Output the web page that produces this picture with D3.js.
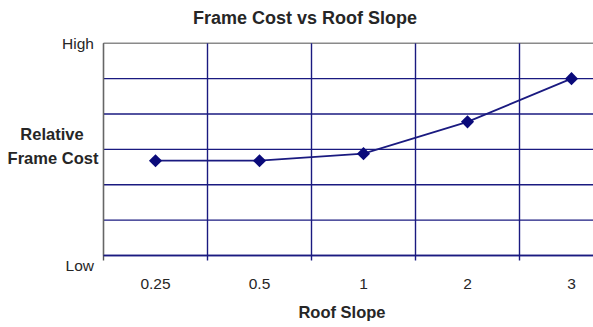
<!DOCTYPE html>
<html>
<head>
<meta charset="utf-8">
<script src="https://cdn.jsdelivr.net/npm/d3@7"></script>
<style>
  html, body { margin: 0; padding: 0; background: #fff; }
  svg { display: block; font-family: "Liberation Sans", Arial, sans-serif; }
</style>
</head>
<body>
<div id="chart"></div>
<script>
// Roof slope categories and relative frame cost (0 = Low, 6 = High)
const slopes = ["0.25", "0.5", "1", "2", "3"];
const frameCost = [2.68, 2.68, 2.88, 3.78, 5.0];
const gridValues = [0, 1, 2, 3, 4, 5, 6];
const extremeLabels = [{ v: 0, text: "Low" }, { v: 6, text: "High" }];

const W = 593, H = 327;
const plotLeft = 103.5, plotTop = 43.3, plotBottom = 255.5;
const band = 104;
const plotRight = plotLeft + band * slopes.length;

const svg = d3.select("#chart").append("svg")
  .attr("width", W).attr("height", H);

const x = d3.scaleBand().domain(slopes)
  .range([plotLeft, plotRight]).padding(0);
const y = d3.scaleLinear().domain([0, 6]).range([plotBottom, plotTop]);

const navy = "#1a1a80";
const ink = "#262626";

// horizontal gridlines
svg.append("g").selectAll("line").data(gridValues).join("line")
  .attr("x1", plotLeft).attr("x2", plotRight)
  .attr("y1", d => y(d)).attr("y2", d => y(d))
  .attr("stroke", d => d === 6 ? "#8a8a8a" : navy)
  .attr("stroke-width", 1.4);

// vertical gridlines at category boundaries, with tick marks below the axis
const bounds = slopes.map(s => x(s)).concat([plotRight]);
svg.append("g").selectAll("line").data(bounds).join("line")
  .attr("x1", d => d).attr("x2", d => d)
  .attr("y1", plotTop)
  .attr("y2", plotBottom + 5)
  .attr("stroke", (d, i) => i === 0 ? "#555" : navy)
  .attr("stroke-width", 1.4);

// left axis in grey, bottom axis in navy
svg.append("line")
  .attr("x1", plotLeft).attr("x2", plotLeft)
  .attr("y1", plotTop).attr("y2", plotBottom)
  .attr("stroke", "#666").attr("stroke-width", 1.2);
svg.append("line")
  .attr("x1", plotLeft).attr("x2", plotRight)
  .attr("y1", plotBottom).attr("y2", plotBottom)
  .attr("stroke", navy).attr("stroke-width", 1.6);

// data line
const pts = slopes.map((s, i) => [x(s) + x.bandwidth() / 2, y(frameCost[i])]);
svg.append("path")
  .attr("d", d3.line()(pts))
  .attr("fill", "none").attr("stroke", navy).attr("stroke-width", 1.8);

// diamond markers
svg.append("g").selectAll("path").data(pts).join("path")
  .attr("d", d3.symbol().type(d3.symbolDiamond2).size(110))
  .attr("transform", d => `translate(${d[0]},${d[1]})`)
  .attr("fill", "#0a0a7a");

// category tick labels
svg.append("g").selectAll("text").data(slopes).join("text")
  .attr("x", d => x(d) + x.bandwidth() / 2)
  .attr("y", 289)
  .attr("text-anchor", "middle")
  .attr("font-size", 15.5)
  .attr("fill", ink)
  .text(d => d);

// Low / High labels
svg.append("g").selectAll("text").data(extremeLabels).join("text")
  .attr("x", 94)
  .attr("y", d => d.v === 0 ? 271 : 49)
  .attr("text-anchor", "end")
  .attr("font-size", 15.5)
  .attr("fill", ink)
  .text(d => d.text);

// axis titles
svg.append("text").attr("x", 52).attr("y", 140)
  .attr("text-anchor", "middle").attr("font-size", 16.5).attr("font-weight", "bold")
  .attr("fill", ink).text("Relative");
svg.append("text").attr("x", 53).attr("y", 164)
  .attr("text-anchor", "middle").attr("font-size", 16.5).attr("font-weight", "bold")
  .attr("fill", ink).text("Frame Cost");
svg.append("text").attr("x", 342).attr("y", 318)
  .attr("text-anchor", "middle").attr("font-size", 16.5).attr("font-weight", "bold")
  .attr("fill", ink).text("Roof Slope");

// chart title
svg.append("text").attr("x", 305).attr("y", 23.5)
  .attr("text-anchor", "middle").attr("font-size", 18).attr("font-weight", "bold")
  .attr("fill", ink).text("Frame Cost vs Roof Slope");
</script>
</body>
</html>
